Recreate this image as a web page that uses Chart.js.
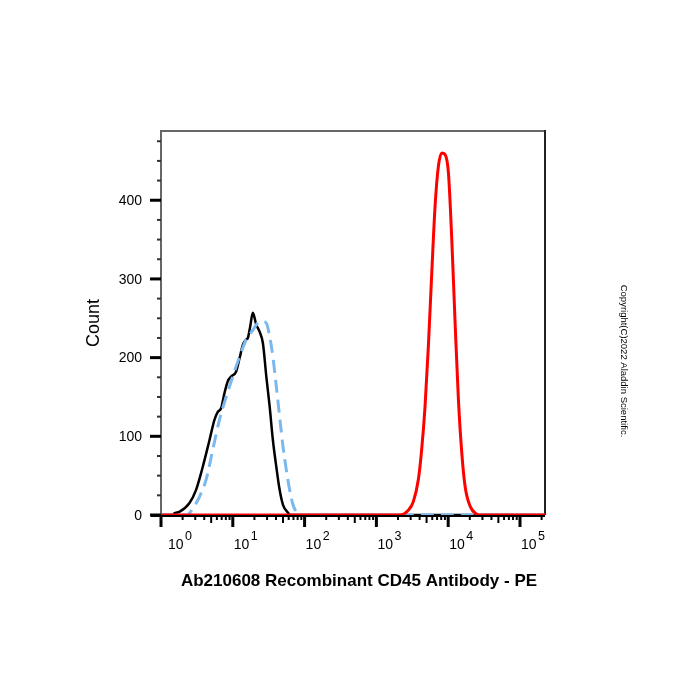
<!DOCTYPE html>
<html>
<head>
<meta charset="utf-8">
<script src="https://cdn.jsdelivr.net/npm/chart.js@4.4.0/dist/chart.umd.min.js"></script>
<style>
  body { margin: 0; background: #fff; }
</style>
</head>
<body>
<canvas id="histogram" width="700" height="700"></canvas>
<script>
// PE fluorescence (x) and event count (y)
var blackX = [1, 1.45, 1.53, 1.80, 2.48, 3.08, 3.81, 4.73, 5.55, 6.18, 6.88, 7.66, 8.52, 9.49, 11.1, 12.4, 13.8, 15.4, 16.2, 17.5, 19.0, 21.2, 23.6, 26.3, 29.3, 32.6, 36.2, 40.4, 44.9, 50.0, 58.7, 63.0, 223000];
var blackY = [0, 0, 2, 4, 15, 32, 61, 95, 121, 131, 136, 155, 170, 176, 182, 199, 216, 223, 225, 240, 257, 242, 233, 218, 176, 138, 95, 61, 32, 13, 3, 0, 0];

var blueX = [1, 2.3, 2.76, 3.43, 4.25, 5.26, 6.52, 8.07, 10.0, 12.4, 15.4, 19.0, 22.3, 26.3, 29.3, 32.6, 36.2, 40.4, 44.9, 50.0, 55.7, 61.9, 68.9, 76.7, 85.0, 223000];
var blueY = [0, 0, 8, 23, 45, 83, 121, 150, 176, 201, 223, 235, 244, 246, 244, 227, 201, 163, 125, 87, 57, 32, 13, 4, 0, 0];

var redX = [1, 2130, 2780, 3270, 3840, 4270, 4760, 5290, 5900, 6560, 7300, 8150, 9060, 10070, 11220, 12480, 13890, 15490, 17220, 20230, 25060, 27500, 223000];
var redY = [0, 0, 6, 17, 45, 83, 138, 214, 307, 392, 443, 460, 458, 435, 350, 244, 146, 78, 36, 11, 1, 0, 0];

var xDecades = [0, 1, 2, 3, 4, 5];
var yLabels = [0, 100, 200, 300, 400];
var yMinorStep = 25;
var yTitle = 'Count';
var xTitle = 'Ab210608 Recombinant CD45 Antibody - PE';
var copyright = 'Copyright(C)2022 Aladdin Scientific.';

var FONT = '"Liberation Sans", Arial, sans-serif';

function points(xs, ys) {
  return xs.map(function(x, i) { return { x: x, y: ys[i] }; });
}

var axesPlugin = {
  id: 'facsAxes',
  beforeDatasetsDraw: function(chart) {
    var ctx = chart.ctx, area = chart.chartArea;
    var xs = chart.scales.x, ys = chart.scales.y;
    ctx.save();
    ctx.lineCap = 'butt';

    // box
    ctx.lineWidth = 2;
    ctx.strokeStyle = '#666';
    ctx.beginPath();
    ctx.moveTo(area.left, area.bottom);
    ctx.lineTo(area.left, area.top);
    ctx.lineTo(area.right, area.top);
    ctx.stroke();
    ctx.strokeStyle = '#222';
    ctx.beginPath();
    ctx.moveTo(area.right, area.top - 1);
    ctx.lineTo(area.right, area.bottom);
    ctx.stroke();

    // y ticks
    for (var v = 0; v <= ys.max; v += yMinorStep) {
      var py = ys.getPixelForValue(v);
      var major = yLabels.indexOf(v) >= 0;
      ctx.lineWidth = major ? 3 : 2;
      ctx.strokeStyle = major ? '#000' : '#333';
      ctx.beginPath();
      ctx.moveTo(area.left - (major ? 11 : 4), py);
      ctx.lineTo(area.left, py);
      ctx.stroke();
    }

    // x axis line + log ticks
    ctx.strokeStyle = '#000';
    ctx.lineWidth = 3;
    ctx.beginPath();
    ctx.moveTo(area.left - 10, area.bottom + 0.5);
    ctx.lineTo(area.right, area.bottom + 0.5);
    ctx.stroke();
    xDecades.forEach(function(k) {
      for (var m = 1; m <= 9; m++) {
        var val = m * Math.pow(10, k);
        if (val > xs.max) break;
        var px = xs.getPixelForValue(val);
        var len = m === 1 ? 12 : (m === 5 ? 8 : 5);
        ctx.lineWidth = m === 1 ? 3 : 2;
        ctx.beginPath();
        ctx.moveTo(px, area.bottom);
        ctx.lineTo(px, area.bottom + len);
        ctx.stroke();
      }
    });
    ctx.restore();
  },
  afterDraw: function(chart) {
    var ctx = chart.ctx, area = chart.chartArea;
    var xs = chart.scales.x, ys = chart.scales.y;
    ctx.save();
    ctx.fillStyle = '#000';

    // y labels
    ctx.font = '14px ' + FONT;
    ctx.textAlign = 'right';
    ctx.textBaseline = 'middle';
    yLabels.forEach(function(v) {
      ctx.fillText(String(v), area.left - 19, ys.getPixelForValue(v) + 1);
    });

    // x labels: 10 with superscript exponent
    ctx.textAlign = 'left';
    ctx.textBaseline = 'alphabetic';
    xDecades.forEach(function(k) {
      var px = xs.getPixelForValue(Math.pow(10, k));
      var lx = Math.max(px + 1, area.left + 7);
      ctx.font = '14px ' + FONT;
      ctx.fillText('10', lx, area.bottom + 34);
      var w = ctx.measureText('10').width;
      ctx.font = '12.5px ' + FONT;
      ctx.fillText(String(k), lx + w + 1.5, area.bottom + 25);
    });

    // axis titles
    ctx.textAlign = 'center';
    ctx.textBaseline = 'middle';
    ctx.font = 'bold 17px ' + FONT;
    ctx.fillText(xTitle, 359, 581);

    ctx.save();
    ctx.translate(94, (area.top + area.bottom) / 2);
    ctx.rotate(-Math.PI / 2);
    ctx.font = '18px ' + FONT;
    ctx.fillText(yTitle, 0, 0);
    ctx.restore();

    ctx.save();
    ctx.translate(624, 361);
    ctx.rotate(Math.PI / 2);
    ctx.font = '9.5px ' + FONT;
    ctx.fillText(copyright, 0, 0);
    ctx.restore();

    ctx.restore();
  }
};

var histCtx = document.getElementById('histogram');
var histChart = new Chart(histCtx, {
  type: 'scatter',
  data: {
    datasets: [
      {
        label: 'Isotype',
        data: points(blackX, blackY),
        showLine: true,
        borderColor: '#000000',
        borderWidth: 2.5,
        pointRadius: 0,
        cubicInterpolationMode: 'monotone',
        order: 3
      },
      {
        label: 'Blank',
        data: points(blueX, blueY),
        showLine: true,
        borderColor: '#7ab8ee',
        borderWidth: 3,
        borderDash: [13, 7],
        pointRadius: 0,
        cubicInterpolationMode: 'monotone',
        order: 2
      },
      {
        label: 'CD45 - PE',
        data: points(redX, redY),
        showLine: true,
        borderColor: '#ff0000',
        borderWidth: 3,
        pointRadius: 0,
        cubicInterpolationMode: 'monotone',
        order: 1
      }
    ]
  },
  options: {
    responsive: false,
    animation: false,
    layout: { padding: { left: 161, right: 155, top: 131, bottom: 185 } },
    plugins: { legend: { display: false }, tooltip: { enabled: false } },
    scales: {
      x: { type: 'logarithmic', min: 1, max: 223000, display: false },
      y: { type: 'linear', min: 0, max: 488, display: false }
    }
  },
  plugins: [axesPlugin]
});
</script>
</body>
</html>
